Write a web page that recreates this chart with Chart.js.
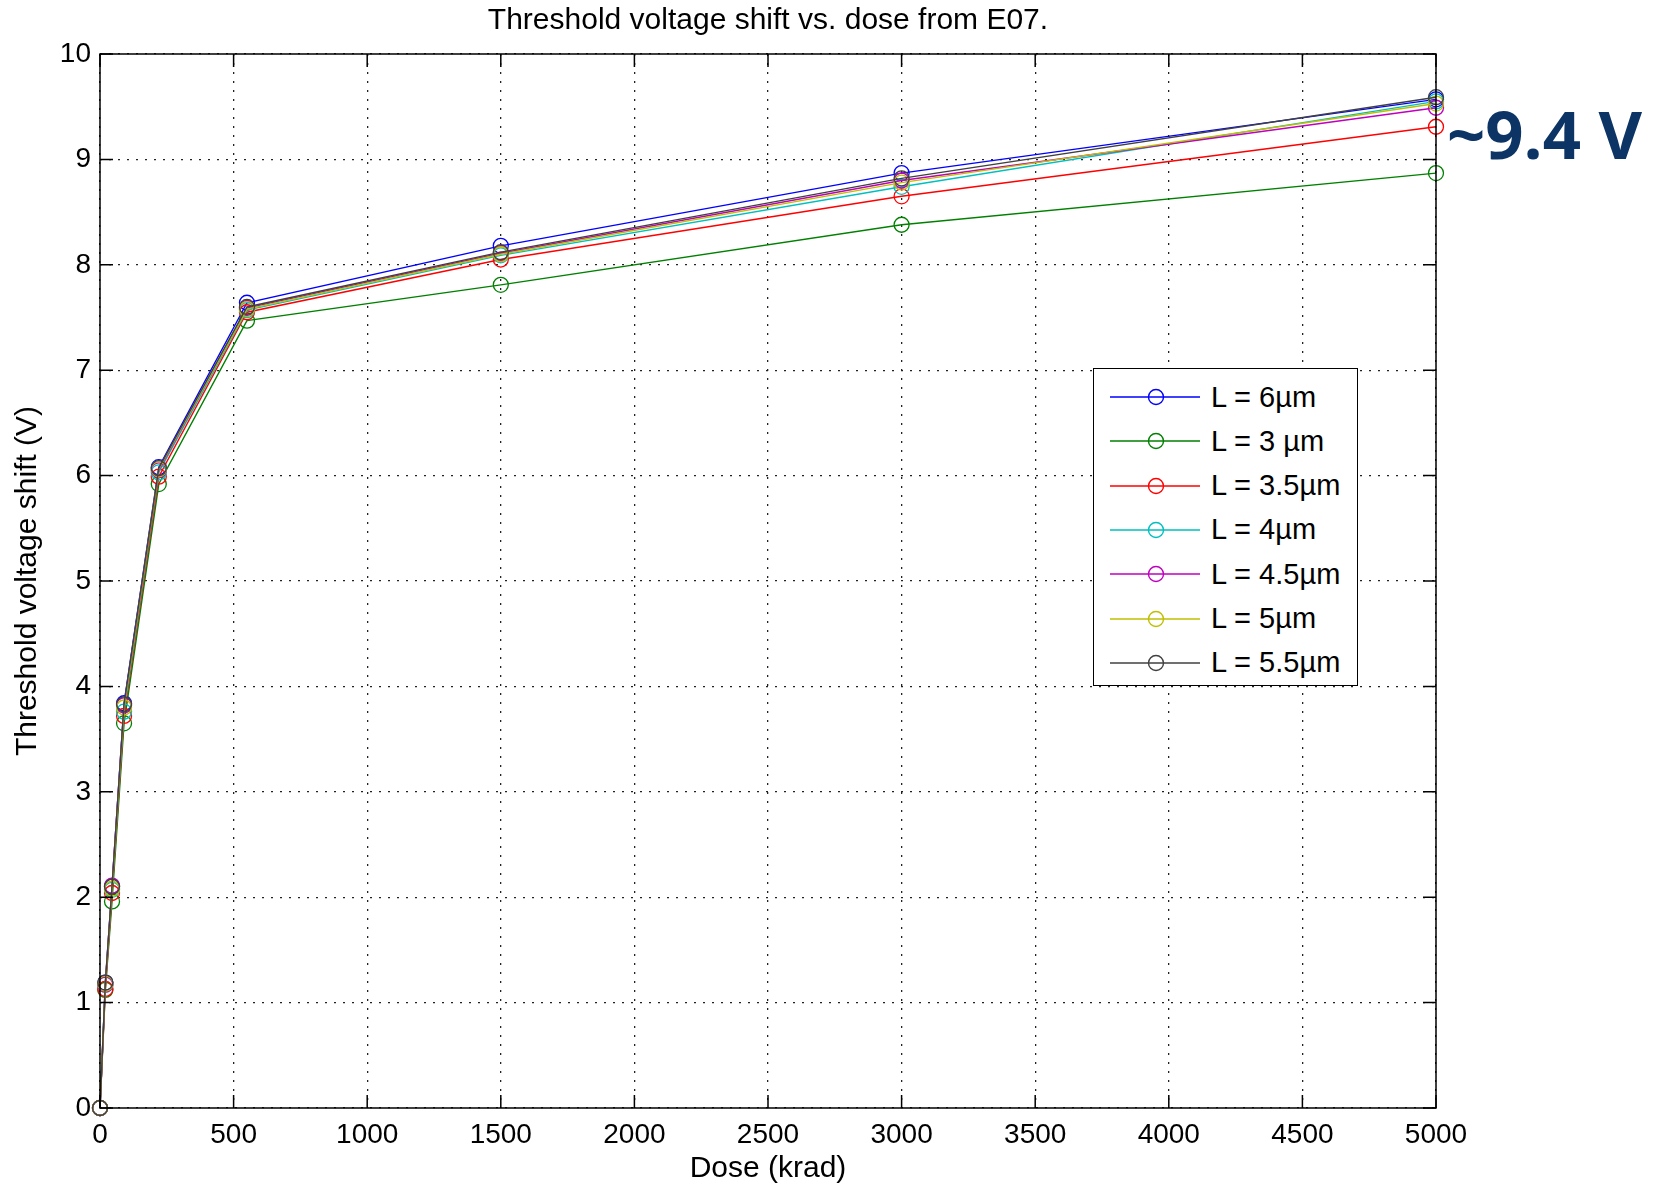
<!DOCTYPE html>
<html>
<head>
<meta charset="utf-8">
<script src="https://cdn.jsdelivr.net/npm/chart.js@4.4.1/dist/chart.umd.min.js"></script>
<style>
  html, body { margin: 0; padding: 0; background: #fff; }
  #wrap { position: relative; width: 1658px; height: 1190px; }
  #legend {
    position: absolute; left: 1093px; top: 368px; width: 265px; height: 318px;
    border: 1.5px solid #000; background: #fff; box-sizing: border-box;
    font-family: "Liberation Sans", Arial, sans-serif; font-size: 29px; color: #000;
  }
  .row { position: absolute; left: 0; height: 44px; display: flex; align-items: center; }
  .row svg { margin-left: 16px; margin-right: 11px; }
  #note {
    position: absolute; left: 1447px; top: 100px;
    font-family: "Open Sans", sans-serif; font-weight: 700; font-size: 67px; line-height: 67px;
    color: #0c3464; white-space: nowrap;
  }
</style>
</head>
<body>
<div id="wrap">
  <canvas id="chart" width="1658" height="1190"></canvas>
  <div id="legend"></div>
  <div id="note">~9.4 V</div>
</div>
<script>
// Threshold voltage shift vs dose, one line per gate length (MATLAB-style plot).

const doses = [0, 20, 45, 90, 220, 550, 1500, 3000, 5000]; // krad

const labels = ["L = 6\u00b5m", "L = 3 \u00b5m", "L = 3.5\u00b5m", "L = 4\u00b5m", "L = 4.5\u00b5m", "L = 5\u00b5m", "L = 5.5\u00b5m"];
const colors = ["#0000ff", "#008000", "#ff0000", "#00bfbf", "#bf00bf", "#bfbf00", "#404040"];

const vL6  = [0, 1.19, 2.10, 3.84, 6.08, 7.64, 8.18, 8.87, 9.57];
const vL3  = [0, 1.12, 1.96, 3.65, 5.92, 7.47, 7.81, 8.38, 8.87];
const vL35 = [0, 1.13, 2.04, 3.72, 5.99, 7.55, 8.05, 8.65, 9.31];
const vL4  = [0, 1.17, 2.07, 3.76, 6.03, 7.57, 8.09, 8.74, 9.55];
const vL45 = [0, 1.17, 2.11, 3.82, 6.05, 7.59, 8.11, 8.80, 9.49];
const vL5  = [0, 1.18, 2.08, 3.80, 6.06, 7.58, 8.10, 8.78, 9.53];
const vL55 = [0, 1.19, 2.10, 3.83, 6.07, 7.60, 8.12, 8.82, 9.59];
const series = [vL6, vL3, vL35, vL4, vL45, vL5, vL55];

const xTicks = [0, 500, 1000, 1500, 2000, 2500, 3000, 3500, 4000, 4500, 5000];
const yTicks = [0, 1, 2, 3, 4, 5, 6, 7, 8, 9, 10];

const FONT = "'Liberation Sans', Arial, sans-serif";

// Box around the axes plus inward tick marks on all four sides.
const matlabBox = {
  id: "matlabBox",
  afterDatasetsDraw(c) {
    const { ctx, chartArea: a, scales } = c;
    const len = 13;
    ctx.save();
    ctx.strokeStyle = "#000";
    ctx.lineWidth = 1.5;
    ctx.beginPath();
    xTicks.forEach((v) => {
      const px = scales.x.getPixelForValue(v);
      ctx.moveTo(px, a.bottom); ctx.lineTo(px, a.bottom - len);
      ctx.moveTo(px, a.top); ctx.lineTo(px, a.top + len);
    });
    yTicks.forEach((v) => {
      const py = scales.y.getPixelForValue(v);
      ctx.moveTo(a.left, py); ctx.lineTo(a.left + len, py);
      ctx.moveTo(a.right, py); ctx.lineTo(a.right - len, py);
    });
    ctx.stroke();
    ctx.strokeRect(a.left, a.top, a.right - a.left, a.bottom - a.top);
    ctx.restore();
  },
};

const datasets = series.map((vals, i) => ({
  label: labels[i],
  data: doses.map((d, k) => ({ x: d, y: vals[k] })),
  borderColor: colors[i],
  backgroundColor: "rgba(0,0,0,0)",
  borderWidth: 1.4,
  pointStyle: "circle",
  pointRadius: 7.5,
  pointBorderWidth: 1.3,
  pointBorderColor: colors[i],
  pointBackgroundColor: "rgba(0,0,0,0)",
  tension: 0,
  clip: false,
  order: series.length - i, // later series drawn on top, like MATLAB
}));

new Chart(document.getElementById("chart"), {
  type: "line",
  data: { datasets },
  options: {
    responsive: false,
    animation: false,
    events: [],
    // right padding + empty right axis keep the title centred over the axes
    layout: { padding: { left: 0, right: 122, top: 0, bottom: 0 } },
    plugins: {
      legend: { display: false },
      tooltip: { enabled: false },
      title: {
        display: true,
        text: "Threshold voltage shift vs. dose from E07.",
        color: "#000",
        font: { family: FONT, size: 30, weight: "normal", lineHeight: 1.2 },
        padding: { top: 3, bottom: 15 },
      },
    },
    scales: {
      x: {
        type: "linear",
        min: 0, max: 5000,
        afterBuildTicks: (s) => { s.ticks = xTicks.map((v) => ({ value: v })); },
        afterFit: (s) => { s.height = 82; },
        ticks: { color: "#000", padding: 10, font: { family: FONT, size: 28 }, maxRotation: 0, callback: (v) => String(v) },
        grid: { color: "#222", lineWidth: 1.3, drawTicks: false },
        border: { display: false, dash: [2, 7] },
        title: {
          display: true, text: "Dose (krad)", color: "#000",
          font: { family: FONT, size: 30, lineHeight: 1.2 }, padding: { top: 0, bottom: 3 },
        },
      },
      y: {
        type: "linear",
        min: 0, max: 10,
        afterBuildTicks: (s) => { s.ticks = yTicks.map((v) => ({ value: v })); },
        afterFit: (s) => { s.width = 100; },
        ticks: { color: "#000", padding: 9, font: { family: FONT, size: 28 } },
        grid: { color: "#222", lineWidth: 1.3, drawTicks: false },
        border: { display: false, dash: [2, 7] },
        title: {
          display: true, text: "Threshold voltage shift (V)", color: "#000",
          font: { family: FONT, size: 30, lineHeight: 1.2 }, padding: { top: 10, bottom: 0 },
        },
      },
      yRight: {
        type: "linear",
        position: "right",
        min: 0, max: 10,
        afterFit: (s) => { s.width = 100; },
        ticks: { display: false },
        grid: { display: false, drawTicks: false },
        border: { display: false },
      },
    },
  },
  plugins: [matlabBox],
});

// Legend drawn as HTML inside the axes, top-right.
const legend = document.getElementById("legend");
labels.forEach((lab, i) => {
  const row = document.createElement("div");
  row.className = "row";
  row.style.top = (6 + i * 44.3) + "px";
  row.innerHTML =
    `<svg width="90" height="20"><line x1="0" y1="10" x2="90" y2="10" stroke="${colors[i]}" stroke-width="1.6"/>` +
    `<circle cx="46" cy="10" r="7.5" fill="none" stroke="${colors[i]}" stroke-width="1.4"/></svg>` +
    `<span>${lab}</span>`;
  legend.appendChild(row);
});
</script>
</body>
</html>
